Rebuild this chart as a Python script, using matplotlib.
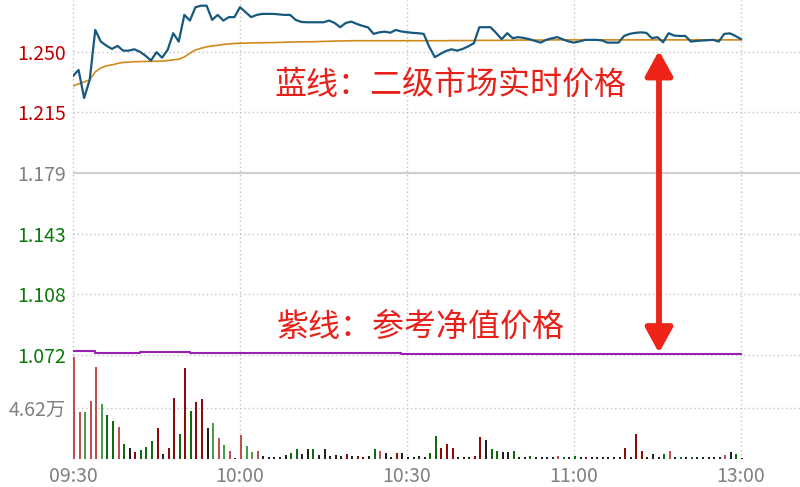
import matplotlib
matplotlib.use("Agg")
import matplotlib.pyplot as plt
from matplotlib.patches import FancyArrowPatch

plt.rcParams['font.family'] = ['Noto Sans CJK SC', 'DejaVu Sans']

# ---------------- data ----------------
minutes = list(range(121))  # 09:30 .. 11:30/13:00 (one point per minute)

price = [1.2357, 1.2392, 1.2228, 1.2334, 1.2626, 1.2558, 1.2534, 1.2515, 1.2533, 1.2505,
         1.2505, 1.2513, 1.2499, 1.2476, 1.2447, 1.2496, 1.2464, 1.2509, 1.2607, 1.2558,
         1.2714, 1.2681, 1.2759, 1.2768, 1.2768, 1.2685, 1.2714, 1.2681, 1.2701, 1.2701,
         1.2759, 1.2730, 1.2701, 1.2714, 1.2720, 1.2720, 1.2720, 1.2717, 1.2714, 1.2714,
         1.2685, 1.2673, 1.2671, 1.2671, 1.2671, 1.2671, 1.2681, 1.2667, 1.2642, 1.2667,
         1.2675, 1.2661, 1.2650, 1.2641, 1.2603, 1.2612, 1.2616, 1.2610, 1.2626, 1.2617,
         1.2613, 1.2609, 1.2607, 1.2603, 1.2527, 1.2467, 1.2486, 1.2503, 1.2513, 1.2505,
         1.2515, 1.2530, 1.2548, 1.2642, 1.2642, 1.2642, 1.2609, 1.2572, 1.2607, 1.2578,
         1.2584, 1.2579, 1.2572, 1.2562, 1.2552, 1.2568, 1.2577, 1.2584, 1.2571, 1.2559,
         1.2552, 1.2559, 1.2568, 1.2568, 1.2568, 1.2565, 1.2552, 1.2552, 1.2552, 1.2591,
         1.2603, 1.2609, 1.2612, 1.2609, 1.2578, 1.2584, 1.2554, 1.2607, 1.2593, 1.2591,
         1.2591, 1.2558, 1.2562, 1.2564, 1.2566, 1.2568, 1.2558, 1.2603, 1.2606, 1.2591,
         1.2572]

avg_price = [1.2299, 1.2310, 1.2322, 1.2334, 1.2381, 1.2404, 1.2416, 1.2422, 1.2430, 1.2436,
             1.2438, 1.2440, 1.2441, 1.2442, 1.2442, 1.2443, 1.2444, 1.2447, 1.2451, 1.2455,
             1.2468, 1.2490, 1.2509, 1.2519, 1.2527, 1.2533, 1.2536, 1.2541, 1.2544, 1.2547,
             1.2548, 1.2549, 1.2550, 1.2551, 1.2551, 1.2552, 1.2552, 1.2553, 1.2554, 1.2555,
             1.2556, 1.2556, 1.2557, 1.2557, 1.2558, 1.2559, 1.2560, 1.2561, 1.2562, 1.2562,
             1.2563, 1.2563, 1.2563, 1.2563, 1.2563, 1.2563, 1.2563, 1.2563, 1.2563, 1.2563,
             1.2563, 1.2563, 1.2563, 1.2563, 1.2563, 1.2563, 1.2563, 1.2563, 1.2564, 1.2564,
             1.2564, 1.2564, 1.2564, 1.2565, 1.2565, 1.2565, 1.2565, 1.2565, 1.2566, 1.2566,
             1.2567, 1.2567, 1.2567, 1.2567, 1.2567, 1.2567, 1.2568, 1.2568, 1.2568, 1.2568,
             1.2568, 1.2568, 1.2568, 1.2568, 1.2568, 1.2568, 1.2568, 1.2568, 1.2568, 1.2568,
             1.2568, 1.2568, 1.2568, 1.2568, 1.2568, 1.2568, 1.2568, 1.2568, 1.2568, 1.2568,
             1.2568, 1.2568, 1.2568, 1.2568, 1.2568, 1.2568, 1.2568, 1.2568, 1.2568, 1.2568,
             1.2568]

nav_minutes = [0, 4, 12, 21, 59, 120]
nav_values = [1.0748, 1.0735, 1.0740, 1.0737, 1.0728, 1.0728]

volume = [9.22, 4.20, 4.20, 5.25, 8.32, 5.00, 3.93, 3.42, 2.85, 1.35,
          1.02, 0.63, 0.81, 1.05, 1.62, 2.76, 0.45, 0.99, 5.52, 2.22,
          8.23, 4.32, 5.16, 5.38, 2.76, 3.22, 1.89, 1.23, 0.72, 0.12,
          2.16, 1.17, 0.63, 0.72, 0.30, 0.21, 0.15, 0.21, 0.36, 0.51,
          0.87, 0.45, 0.87, 0.87, 0.36, 0.87, 0.27, 0.36, 0.27, 0.45,
          0.27, 0.27, 0.15, 0.27, 0.87, 0.72, 0.51, 0.21, 0.51, 0.51,
          0.21, 0.15, 0.27, 0.21, 0.51, 2.07, 1.02, 1.35, 1.02, 0.21,
          0.15, 0.15, 0.27, 2.01, 1.71, 0.90, 0.72, 0.63, 0.63, 0.72,
          0.21, 0.15, 0.27, 0.15, 0.15, 0.15, 0.15, 0.27, 0.21, 0.15,
          0.27, 0.15, 0.21, 0.15, 0.21, 0.15, 0.21, 0.15, 0.21, 1.02,
          0.21, 2.25, 0.75, 0.15, 0.45, 0.15, 0.45, 0.72, 0.21, 0.15,
          0.15, 0.21, 0.15, 0.15, 0.15, 0.15, 0.21, 0.36, 0.60, 0.45,
          0.10]

volume_dir = ("rrgrrgGGrGkRGGGRkRRGRGRRkgrgrkrggrkkkkkGGkkGkkkkkRkRkkGrkkRk"
              "kkkkGGRRRkkkRRkGGkkGkkGkkkkrGkGkRkkkkkkRkRRkkkGrkGkGkkkkkrkGk")

volume_colors = {'r': '#c0504d', 'R': '#8b0a0a', 'g': '#4c9a4c', 'G': '#0f6b0f', 'k': '#202020'}

price_ticks = [1.0725, 1.1080, 1.1435, 1.1790, 1.2145, 1.2500]
price_tick_labels = ['1.072', '1.108', '1.143', '1.179', '1.215', '1.250']
price_tick_colors = ['#0b7a0b', '#0b7a0b', '#0b7a0b', '#808080', '#c00000', '#c00000']
prev_close = 1.1790

vol_tick = 4.62
vol_tick_label = '4.62万'

time_ticks = [0, 30, 60, 90, 120]
time_labels = ['09:30', '10:00', '10:30', '11:00', '13:00']

# ---------------- figure ----------------
W, H = 800, 487
fig = plt.figure(figsize=(W / 100, H / 100), dpi=100)
fig.patch.set_facecolor('white')

x0_px, x_end_px, x120_px = 73, 800, 741
px_per_min = (x120_px - x0_px) / 120.0
xmax = (x_end_px - x0_px) / px_per_min

# price panel: y px 0..355
ax = fig.add_axes([x0_px / W, (H - 355) / H, (x_end_px - x0_px) / W, 355 / H])
# volume panel: y px 355..459
axv = fig.add_axes([x0_px / W, (H - 459) / H, (x_end_px - x0_px) / W, 104 / H])

px_per_price = 60.7 / 0.0355
ax.set_ylim(1.0725, 1.0725 + 355 / px_per_price)
axv.set_ylim(0, 104 / 11.1)
for a in (ax, axv):
    a.set_xlim(0, xmax)
    for s in a.spines.values():
        s.set_visible(False)
    a.set_facecolor('none')

grid_kw = dict(color='#c4c4c4', linewidth=1.0, linestyle=(0, (1, 2)), zorder=0, clip_on=False)

# price grid
for t in price_ticks:
    if t == prev_close:
        ax.axhline(t, color='#cfcfcf', linewidth=1.6, zorder=0)
    else:
        ax.axhline(t, **grid_kw)
for t in time_ticks:
    ax.axvline(t, **grid_kw)
    axv.axvline(t, **grid_kw)
axv.axhline(vol_tick, **grid_kw)

# lines
ax.plot(minutes, avg_price, color='#d08a1c', linewidth=1.2, zorder=3)
ax.plot(minutes, price, color='#17587f', linewidth=1.6, zorder=4)
ax.plot(nav_minutes, nav_values, color='#9a1fb3', linewidth=1.5, drawstyle='steps-post', zorder=3)

# volume bars
axv.bar(minutes, volume, width=0.36, align='edge',
        color=[volume_colors[c] for c in volume_dir], linewidth=0, zorder=2)

# ticks
ax.set_yticks(price_ticks)
ax.set_yticklabels(price_tick_labels)
for lbl, c in zip(ax.get_yticklabels(), price_tick_colors):
    lbl.set_color(c)
ax.tick_params(axis='y', length=0, pad=5, labelsize=14)
ax.set_xticks([])

axv.set_yticks([vol_tick])
axv.set_yticklabels([vol_tick_label])
axv.tick_params(axis='y', length=0, pad=5, labelsize=14, labelcolor='#808080')
axv.set_xticks(time_ticks)
axv.set_xticklabels(time_labels)
axv.tick_params(axis='x', length=0, pad=5, labelsize=14, labelcolor='#808080')

# annotations
fig.text(275 / W, 1 - 85 / H, '蓝线：二级市场实时价格', color='#e8201a', fontsize=23,
         ha='left', va='center')
fig.text(277 / W, 1 - 327 / H, '紫线：参考净值价格', color='#e8201a', fontsize=23,
         ha='left', va='center')

arrow_x = (659 - x0_px) / px_per_min
arr = FancyArrowPatch((arrow_x, 1.0737), (arrow_x, 1.2505),
                      arrowstyle='<|-|>,head_length=1.0,head_width=0.55',
                      mutation_scale=15, color='#ee2418', linewidth=4.2,
                      shrinkA=0, shrinkB=0, zorder=6, clip_on=False)
ax.add_patch(arr)

fig.savefig('out.png', dpi=100, facecolor='white')
